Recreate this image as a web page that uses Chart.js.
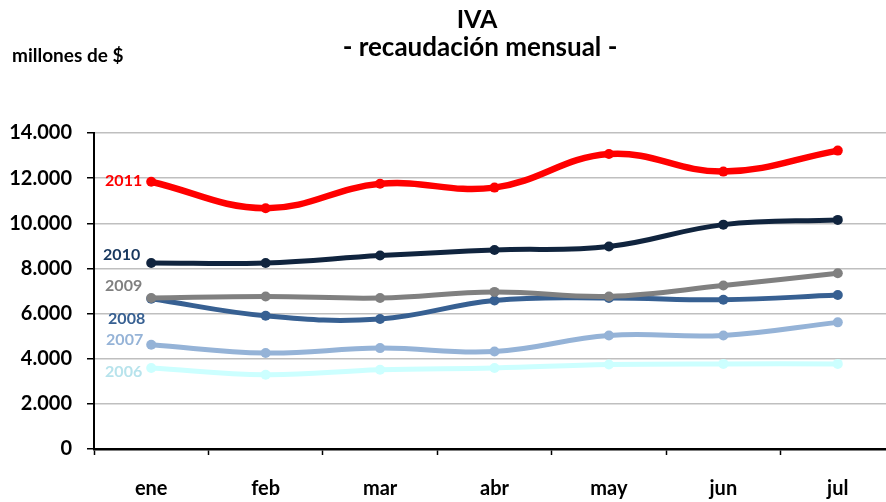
<!DOCTYPE html>
<html>
<head>
<meta charset="utf-8">
<script src="https://cdn.jsdelivr.net/npm/chart.js@4/dist/chart.umd.min.js"></script>
<style>
html,body{margin:0;padding:0;background:#fff;overflow:hidden;}
#clip{width:886px;height:502px;overflow:hidden;position:relative;}
#wrap{width:900px;height:502px;position:absolute;left:0;top:0;}
</style>
</head>
<body>
<div id="clip"><div id="wrap"><canvas id="c"></canvas></div></div>
<script>
const months = ['ene','feb','mar','abr','may','jun','jul'];
const yTicks = [0, 2000, 4000, 6000, 8000, 10000, 12000, 14000];
const titleText = 'IVA';
const subtitleText = '- recaudación mensual -';
const unitText = 'millones de $';
const seriesNames = ['2011','2010','2009','2008','2007','2006'];
const v2011 = [11840, 10670, 11750, 11580, 13070, 12290, 13220];
const v2010 = [8240, 8240, 8570, 8820, 8970, 9940, 10150];
const v2009 = [6690, 6760, 6690, 6960, 6760, 7240, 7790];
const v2008 = [6660, 5900, 5760, 6580, 6690, 6610, 6820];
const v2007 = [4620, 4250, 4470, 4320, 5030, 5030, 5610];
const v2006 = [3590, 3290, 3510, 3590, 3740, 3770, 3770];

const FONT = 'Lato, "Open Sans", sans-serif';
const styles = [
  {line:'#FF0000', label:'#FF0000', w:6.5, dx:-9, dy:-1},
  {line:'#10243E', label:'#17375E', w:5, dx:-11, dy:-8},
  {line:'#808080', label:'#808080', w:5, dx:-9, dy:-12},
  {line:'#376092', label:'#376092', w:5, dx:-6, dy:20},
  {line:'#95B3D7', label:'#95B3D7', w:5, dx:-8, dy:-5},
  {line:'#CCFFFF', label:'#B7E3EC', w:5, dx:-9, dy:4}
];
const values = [v2011, v2010, v2009, v2008, v2007, v2006];

const datasets = seriesNames.map((n,i)=>({
  label:n,
  data:values[i],
  borderColor:styles[i].line,
  backgroundColor:styles[i].line,
  borderWidth:styles[i].w,
  pointRadius:5,
  pointHoverRadius:5,
  pointBorderWidth:0,
  tension:0.4,
  fill:false
}));

function fmt(v){return String(v).replace(/\B(?=(\d{3})+(?!\d))/g,'.');}

const textPlugin = {
  id:'texts',
  afterDraw(chart){
    const ctx = chart.ctx;
    ctx.save();
    ctx.fillStyle = '#000';
    ctx.textBaseline = 'alphabetic';
    ctx.textAlign = 'center';
    ctx.font = 'bold 25px ' + FONT;
    ctx.fillText(titleText, 477, 28);
    ctx.font = 'bold 26px ' + FONT;
    ctx.fillText(subtitleText, 480, 56);
    ctx.textAlign = 'left';
    ctx.font = 'bold 19px ' + FONT;
    ctx.fillText(unitText, 12, 62);
    // series labels beside first point
    ctx.textAlign = 'right';
    ctx.textBaseline = 'middle';
    ctx.font = 'bold 16px ' + FONT;
    chart.data.datasets.forEach((ds,i)=>{
      const pt = chart.getDatasetMeta(i).data[0];
      ctx.fillStyle = styles[i].label;
      ctx.fillText(ds.label, pt.x + styles[i].dx, pt.y + styles[i].dy);
    });
    ctx.restore();
  }
};

new Chart(document.getElementById('c'), {
  type:'line',
  data:{labels:months, datasets},
  options:{
    responsive:true,
    maintainAspectRatio:false,
    animation:false,
    events:[],
    layout:{padding:{top:133, right:1, left:0, bottom:0}},
    plugins:{legend:{display:false}, tooltip:{enabled:false}, title:{display:false}},
    scales:{
      x:{
        offset:true,
        grid:{offset:true, drawOnChartArea:false, drawTicks:true, tickLength:6, tickColor:'#000', tickWidth:1.5},
        border:{display:true, color:'#000', width:2.5},
        ticks:{color:'#000', font:{family:FONT, size:20, weight:'bold'}, padding:22, maxRotation:0, autoSkip:false},
        afterFit(s){ s.height = 53; }
      },
      y:{
        min:0, max:14000,
        afterBuildTicks(s){ s.ticks = yTicks.map(v=>({value:v})); },
        grid:{color:'#BFBFBF', lineWidth:1.5, tickLength:7, tickColor:'#000', tickWidth:1.5},
        border:{display:true, color:'#000', width:2},
        ticks:{color:'#000', font:{family:FONT, size:20, weight:'bold'}, padding:15, callback:(v)=>fmt(v)},
        afterFit(s){ s.width = 94; }
      }
    }
  },
  plugins:[textPlugin]
});
</script>
</body>
</html>
